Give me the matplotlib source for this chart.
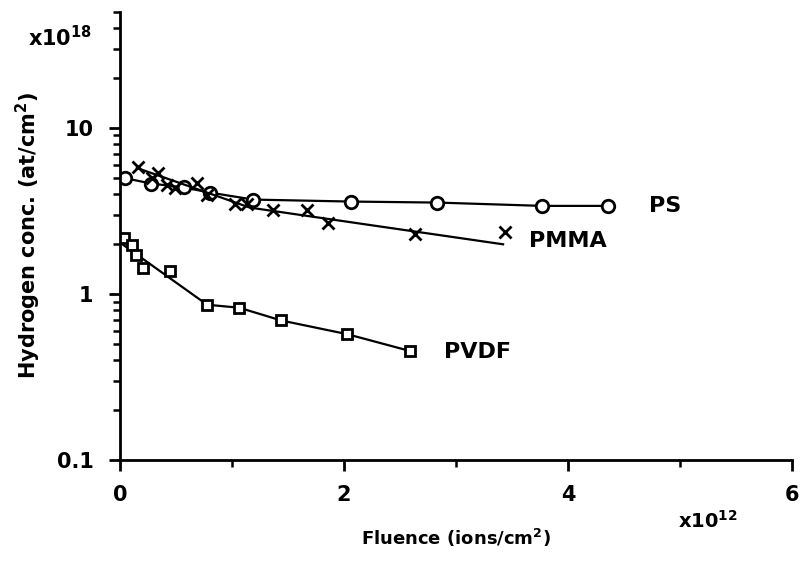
import matplotlib
matplotlib.use("Agg")
import matplotlib.pyplot as plt
from matplotlib.ticker import FixedLocator, NullFormatter

plt.rcParams['font.family'] = ['DejaVu Sans']
plt.rcParams['font.weight'] = 'bold'
plt.rcParams['axes.labelweight'] = 'bold'
plt.rcParams['mathtext.default'] = 'regular'

# fluence in 1e12 ions/cm2, hydrogen conc. in 1e18 at/cm2
ps_x = [0.045, 0.28, 0.57, 0.80, 1.19, 2.06, 2.83, 3.77, 4.36]
ps_y = [4.98, 4.62, 4.38, 4.08, 3.70, 3.60, 3.55, 3.39, 3.39]

pmma_x = [0.157, 0.286, 0.34, 0.42, 0.49, 0.69, 0.78, 1.03, 1.13, 1.37, 1.67, 1.86, 2.63, 3.44]
pmma_y = [5.82, 5.00, 5.36, 4.54, 4.35, 4.66, 3.95, 3.48, 3.48, 3.21, 3.21, 2.68, 2.30, 2.36]
# hand drawn trend line for PMMA
pmma_fit_x = [0.15, 1.16, 3.42]
pmma_fit_y = [5.74, 3.31, 1.99]

pvdf_x = [0.036, 0.107, 0.143, 0.206, 0.447, 0.778, 1.064, 1.44, 2.03, 2.585]
pvdf_y = [2.17, 1.97, 1.72, 1.43, 1.38, 0.861, 0.826, 0.692, 0.572, 0.454]
pvdf_fit_x = [0.0, 0.778, 1.064, 1.44, 2.03, 2.585]
pvdf_fit_y = [2.04, 0.861, 0.826, 0.692, 0.572, 0.454]

labels = ["PS", "PMMA", "PVDF"]
label_pos = [(4.72, 3.39), (3.65, 2.09), (2.89, 0.448)]

fig = plt.figure(figsize=(8.05, 5.63), dpi=100)
ax = fig.add_axes([0.149, 0.183, 0.835, 0.796])

lw = 1.6
ax.plot(ps_x, ps_y, color='black', lw=lw, marker='o', ms=9, mfc='white', mew=2)
ax.plot(pmma_fit_x, pmma_fit_y, color='black', lw=lw)
ax.plot(pmma_x, pmma_y, ls='none', marker='x', ms=9, color='black', mew=2)
ax.plot(pvdf_fit_x, pvdf_fit_y, color='black', lw=lw)
ax.plot(pvdf_x, pvdf_y, ls='none', marker='s', ms=7, mfc='white', mec='black', mew=2)

for name, (lx, ly) in zip(labels, label_pos):
    ax.text(lx, ly, name, fontsize=16, va='center', ha='left')

ax.set_yscale('log')
ax.set_xlim(0, 6)
ax.set_ylim(0.1, 50)

ax.xaxis.set_major_locator(FixedLocator([0, 2, 4, 6]))
ax.xaxis.set_minor_locator(FixedLocator([1, 3, 5]))
ax.yaxis.set_major_locator(FixedLocator([0.1, 1, 10]))
ax.yaxis.set_minor_locator(FixedLocator([0.2, 0.3, 0.4, 0.5, 0.6, 0.7, 0.8, 0.9,
                                         2, 3, 4, 5, 6, 7, 8, 9, 20, 30, 40, 50]))
ax.yaxis.set_minor_formatter(NullFormatter())
ax.set_yticklabels(["0.1", "1", "10"])
ax.set_xticklabels(["0", "2", "4", "6"])

for s in ['top', 'right']:
    ax.spines[s].set_visible(False)
for s in ['left', 'bottom']:
    ax.spines[s].set_linewidth(2)

ax.tick_params(which='major', direction='out', length=8, width=2, labelsize=15)
ax.tick_params(axis='y', which='major', pad=11)
ax.tick_params(axis='x', which='major', pad=10)
ax.tick_params(which='minor', direction='out', length=5, width=1.8)

ax.set_ylabel("Hydrogen conc. (at/cm$^2$)", fontsize=15, labelpad=10)
ax.set_xlabel("Fluence (ions/cm$^2$)", fontsize=13, labelpad=16)

fig.text(0.035, 0.918, "x10$^{18}$", fontsize=15)
fig.text(0.842, 0.062, "x10$^{12}$", fontsize=14)

fig.savefig("out.png", dpi=100)
